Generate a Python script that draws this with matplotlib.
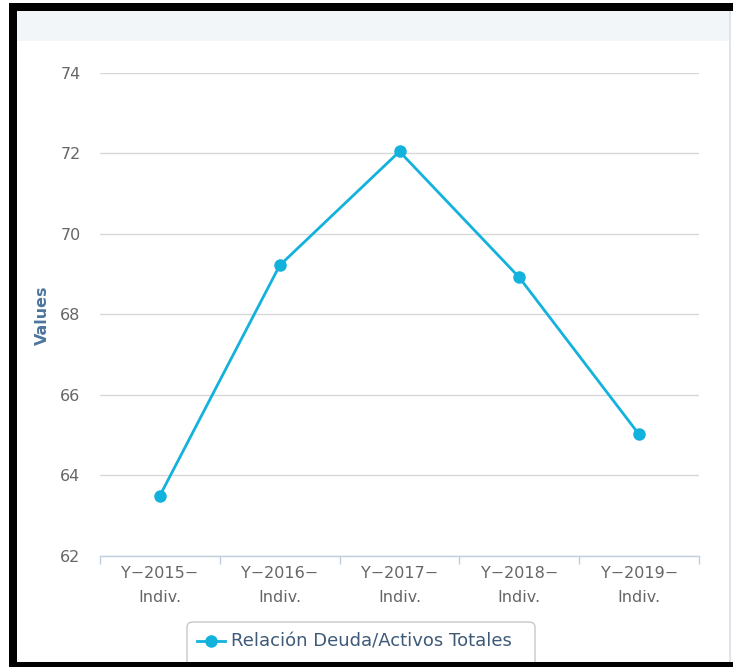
import numpy as np
import matplotlib.pyplot as plt
from matplotlib.patches import Rectangle, FancyBboxPatch
from matplotlib.lines import Line2D

categories = ["Y\u22122015\u2212\nIndiv.", "Y\u22122016\u2212\nIndiv.", "Y\u22122017\u2212\nIndiv.",
              "Y\u22122018\u2212\nIndiv.", "Y\u22122019\u2212\nIndiv."]
values = [63.5, 69.22, 72.05, 68.92, 65.02]
series_name = "Relación Deuda/Activos Totales"
y_ticks = [62, 64, 66, 68, 70, 72, 74]

W, H = 733, 667
line_color = "#12b2dc"

fig = plt.figure(figsize=(W / 100, H / 100), dpi=100)
fig.patch.set_facecolor("white")

def px(x0, y0, x1, y1):
    # pixel box (top-left origin) -> figure fraction rect
    return (x0 / W, 1 - y1 / H, (x1 - x0) / W, (y1 - y0) / H)

# header band
r = px(17, 11, 731, 41)
fig.patches.append(Rectangle(r[:2], *r[2:], transform=fig.transFigure,
                             facecolor="#f3f6f9", edgecolor="none", zorder=0))
# right thin border
r = px(729, 11, 731, 662)
fig.patches.append(Rectangle(r[:2], *r[2:], transform=fig.transFigure,
                             facecolor="#dfe4ea", edgecolor="none", zorder=0))

ax = fig.add_axes(px(100, 73, 699, 556))
x = np.arange(len(categories))
ax.plot(x, values, color=line_color, lw=2, marker="o", ms=8, zorder=3, clip_on=False)
ax.set_xlim(-0.5, len(categories) - 0.5)
ax.set_ylim(62, 74)
ax.set_yticks(y_ticks)
ax.set_yticklabels([str(t) for t in y_ticks], color="#666666", fontsize=11.5)
ax.set_xticks(x)
ax.set_xticklabels(categories, color="#666666", fontsize=11.5, linespacing=1.75)
ax.tick_params(axis="x", length=0, pad=7)
ax.tick_params(axis="y", length=0, pad=14)
ax.set_xticks(np.arange(-0.5, len(categories)), minor=True)
ax.tick_params(axis="x", which="minor", length=6, color="#c0d0e0", width=1)
ax.grid(axis="y", color="#d8d8d8", lw=1)
ax.set_axisbelow(True)
for s in ["top", "right", "left"]:
    ax.spines[s].set_visible(False)
ax.spines["bottom"].set_color("#c0d0e0")
ax.spines["bottom"].set_linewidth(1)

fig.text(42 / W, 1 - 315 / H, "Values", rotation=90, ha="center", va="center",
         fontsize=11.5, fontweight="bold", color="#4d759e")

# legend box
lx0, ly0, lx1, ly1 = 187, 622, 535, 680
fig.patches.append(FancyBboxPatch((lx0 / W, 1 - ly1 / H), (lx1 - lx0) / W, (ly1 - ly0) / H,
                                  boxstyle="round,pad=0,rounding_size=0.008",
                                  transform=fig.transFigure, facecolor="white",
                                  edgecolor="#c8c8c8", lw=1, zorder=1))
fig.add_artist(Line2D([197 / W, 225 / W], [1 - 641 / H] * 2, color=line_color, lw=2, zorder=2))
fig.add_artist(Line2D([211 / W], [1 - 641 / H], color=line_color, marker="o", ms=8, zorder=2))
fig.text(231 / W, 1 - 641 / H, series_name, ha="left", va="center", fontsize=13,
         color="#3e5a78", zorder=2)

# black frame
for box in [(9, 3, 733, 11), (9, 3, 17, 667), (9, 662, 733, 667)]:
    r = px(*box)
    fig.patches.append(Rectangle(r[:2], *r[2:], transform=fig.transFigure,
                                 facecolor="black", edgecolor="none", zorder=5))

fig.savefig("out.png", dpi=100)
